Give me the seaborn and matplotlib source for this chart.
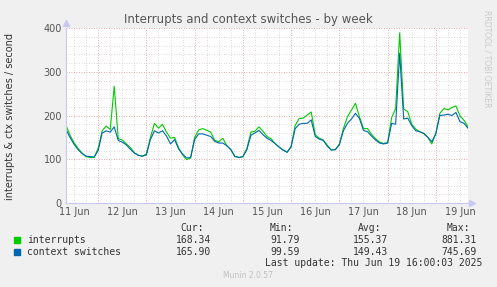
import matplotlib
matplotlib.use('Agg')
import matplotlib.pyplot as plt
import matplotlib.dates as mdates
from matplotlib.patches import Rectangle
import seaborn as sns
import pandas as pd

# 2-hourly samples, Jun 11 08:00 -> Jun 19 16:00
start = '2025-06-11 08:00'
end = '2025-06-19 16:00'

interrupts = [178, 155, 138, 125, 114, 106, 104, 104, 125, 165, 176, 168, 267, 147, 144, 135,
              127, 115, 109, 107, 112, 150, 182, 171, 180, 162, 148, 150, 126, 110, 99, 103,
              150, 167, 170, 166, 162, 143, 140, 148, 131, 122, 106, 104, 106, 125, 162, 164,
              174, 164, 152, 147, 136, 128, 121, 116, 130, 177, 193, 194, 201, 208, 156, 148,
              144, 132, 121, 122, 135, 170, 197, 212, 228, 197, 170, 170, 157, 147, 139, 136,
              138, 195, 216, 389, 215, 209, 180, 169, 163, 159, 150, 135, 160, 205, 216, 213,
              218, 222, 199, 189, 174]
ctx_switches = [168, 150, 134, 122, 113, 107, 106, 105, 120, 160, 165, 162, 174, 143, 139, 133,
                123, 114, 109, 107, 110, 145, 165, 160, 165, 153, 135, 145, 124, 112, 103, 104,
                145, 158, 158, 155, 152, 141, 137, 137, 131, 122, 107, 104, 106, 122, 155, 160,
                166, 156, 148, 143, 136, 128, 121, 116, 128, 170, 180, 182, 182, 190, 152, 146,
                143, 130, 121, 122, 133, 165, 182, 192, 205, 193, 166, 163, 153, 144, 137, 135,
                137, 182, 180, 342, 192, 194, 177, 165, 163, 159, 150, 140, 158, 200, 201, 203,
                200, 207, 186, 182, 171]

series_names = ['interrupts', 'context switches']
colors = ['#00CC00', '#0066B3']
stats_cur = ['168.34', '165.90']
stats_min = ['91.79', '99.59']
stats_avg = ['155.37', '149.43']
stats_max = ['881.31', '745.69']

times = pd.date_range(start, end, freq='2h')
df = pd.DataFrame({
    'time': list(times) * 2,
    'value': interrupts + ctx_switches,
    'series': [series_names[0]] * len(times) + [series_names[1]] * len(times),
})

W, H = 497, 287
fig = plt.figure(figsize=(W / 100, H / 100), dpi=100, facecolor='#F0F0F0')
ax = fig.add_axes([66 / W, 1 - 203 / H, 402 / W, 175 / H])
ax.set_facecolor('white')

t0, t1 = pd.Timestamp(start), pd.Timestamp(end)

# grid like rrdtool: grey every 6 h / 20 units, red every day / 100 units
for t in pd.date_range('2025-06-11 12:00', end, freq='6h'):
    major = t.hour == 0
    ax.axvline(t, color='#e09090' if major else '#cfcfcf', lw=0.6,
               ls=(0, (1, 2)), zorder=0)
for v in range(20, 401, 20):
    major = v % 100 == 0
    ax.axhline(v, color='#e09090' if major else '#cfcfcf', lw=0.6,
               ls=(0, (1, 2)), zorder=0)

sns.lineplot(data=df, x='time', y='value', hue='series', palette=colors,
             linewidth=0.8, legend=False, ax=ax)

ax.set_xlim(t0, t1)
ax.set_ylim(0, 400)
noons = pd.date_range('2025-06-11 12:00', '2025-06-19 12:00', freq='1D')
ax.set_xticks(noons)
ax.set_xticklabels([t.strftime('%d Jun') for t in noons])
ax.set_yticks([0, 100, 200, 300, 400])
ax.tick_params(length=0, labelsize=7, colors='#555555', pad=3)
ax.set_xlabel('')
ax.set_ylabel('')

for s in ['top', 'right']:
    ax.spines[s].set_visible(False)
for s in ['left', 'bottom']:
    ax.spines[s].set_color('#c8c8f0')
    ax.spines[s].set_linewidth(0.8)
ax.plot([1.01], [0], marker='>', ms=4, color='#c8c8f0', transform=ax.transAxes, clip_on=False)
ax.plot([0], [1.03], marker='^', ms=4, color='#c8c8f0', transform=ax.transAxes, clip_on=False)


def fx(x):
    return x / W


def fy(y):
    return 1 - y / H


fig.text(fx(248), fy(19), 'Interrupts and context switches - by week',
         ha='center', va='center', fontsize=8.5, color='#555555')
fig.text(fx(10), fy(116), 'interrupts & ctx switches / second', rotation=90,
         ha='center', va='center', fontsize=7, color='#333333')
fig.text(fx(487), fy(10), 'RRDTOOL / TOBI OETIKER', rotation=270,
         ha='center', va='top', fontsize=5.5, color='#c8c8c8')

mono = dict(family='DejaVu Sans Mono', fontsize=7, color='#333333', va='center')
for x, h in zip([204, 293, 381, 470], ['Cur:', 'Min:', 'Avg:', 'Max:']):
    fig.text(fx(x), fy(228), h, ha='right', **mono)
for i, name in enumerate(series_names):
    y = 240 + 12 * i
    fig.patches.append(Rectangle((fx(14), fy(y + 3)), 6 / W, 6 / H,
                                 transform=fig.transFigure, color=colors[i]))
    fig.text(fx(27), fy(y), name, ha='left', **mono)
    for x, col in zip([211, 300, 388, 477], [stats_cur, stats_min, stats_avg, stats_max]):
        fig.text(fx(x), fy(y), col[i], ha='right', **mono)
fig.text(fx(482), fy(263), 'Last update: Thu Jun 19 16:00:03 2025', ha='right', **mono)
fig.text(fx(248), fy(276), 'Munin 2.0.57', ha='center', va='center',
         fontsize=5.5, color='#c0c0c0')

fig.savefig('out.png', dpi=100, facecolor=fig.get_facecolor())
